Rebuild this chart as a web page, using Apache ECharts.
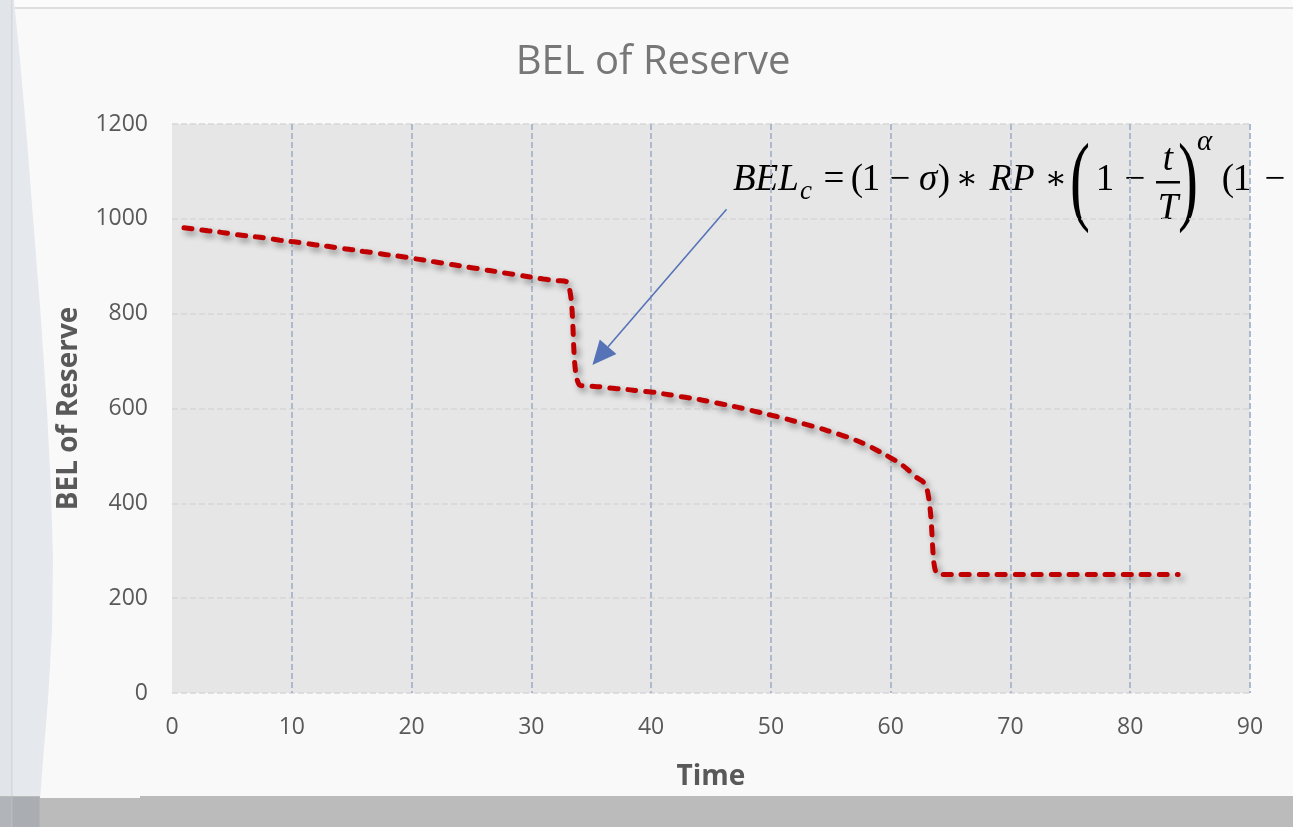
<!DOCTYPE html>
<html>
<head>
<meta charset="utf-8">
<title>BEL of Reserve</title>
<script src="https://cdn.jsdelivr.net/npm/echarts@6/dist/echarts.min.js"></script>
<style>
  html, body { margin: 0; padding: 0; background: #f9f9f9; }
  #chart { width: 1293px; height: 827px; }
</style>
</head>
<body>
<div id="chart"></div>
<script>
// Time steps (x values)
const times = [
  1, 2, 3, 4, 5, 6, 7, 8, 9, 10,
  11, 12, 13, 14, 15, 16, 17, 18, 19, 20,
  21, 22, 23, 24, 25, 26, 27, 28, 29, 30,
  31, 32, 33, 34, 35, 36, 37, 38, 39, 40,
  41, 42, 43, 44, 45, 46, 47, 48, 49, 50,
  51, 52, 53, 54, 55, 56, 57, 58, 59, 60,
  61, 62, 63, 64, 65, 66, 67, 68, 69, 70,
  71, 72, 73, 74, 75, 76, 77, 78, 79, 80,
  81, 82, 83, 84
];

// Best estimate liability of the reserve at each time step
const belValues = [
  981, 978, 975, 972, 968, 965, 962, 959, 955, 952,
  949, 945, 942, 938, 935, 931, 928, 924, 921, 917,
  913, 909, 905, 901, 897, 893, 889, 885, 881, 877,
  873, 870, 866, 650, 647, 645, 642, 640, 637, 635,
  631, 627, 623, 619, 614, 609, 604, 598, 592, 586,
  580, 573, 566, 559, 551, 543, 534, 523, 510, 496,
  480, 458, 434, 250, 250, 250, 250, 250, 250, 250,
  250, 250, 250, 250, 250, 250, 250, 250, 250, 250,
  250, 250, 250, 250
];

// Axis ranges and tick steps
const xRange = [0, 90];
const xStep = 10;
const yRange = [0, 1200];
const yStep = 200;

// Arrow pointing at the first drop, in data coordinates [time, value]
const arrowTail = [46.3, 1020];
const arrowHead = [35.1, 692];

const labelFont = '"Open Sans", "DejaVu Sans", sans-serif';
const mathFont = '"Liberation Serif", "DejaVu Serif", serif';

const chart = echarts.init(document.getElementById('chart'), null, { renderer: 'canvas' });

// Vertical split lines: the one at x = 0 is left out
const xLineCount = (xRange[1] - xRange[0]) / xStep + 1;
const xSplitColors = [];
for (let i = 0; i < xLineCount; i++) xSplitColors.push(i === 0 ? 'rgba(0,0,0,0)' : '#adbace');

// Page decorations around the chart
const frame = [
  { type: 'rect', silent: true, shape: { x: 0, y: 0, width: 1293, height: 8 }, style: { fill: '#fbfbfb' } },
  { type: 'rect', silent: true, shape: { x: 0, y: 7, width: 1293, height: 2 }, style: { fill: '#dedede' } },
  { type: 'rect', silent: true, shape: { x: 0, y: 0, width: 11, height: 827 }, style: { fill: '#e1e4e9' } },
  {
    type: 'polygon', silent: true,
    shape: {
      points: [
        [12, 0], [14, 0], [20, 60], [27, 140], [34, 230], [41, 320], [47, 410],
        [51, 490], [53, 560], [52, 630], [48, 700], [43, 760], [38, 827], [12, 827]
      ]
    },
    style: { fill: '#e5e8ed' }
  },
  { type: 'rect', silent: true, shape: { x: 11, y: 0, width: 1.5, height: 827 }, style: { fill: '#d4d7dc' } },
  { type: 'rect', silent: true, shape: { x: 0, y: 796, width: 1293, height: 31 }, style: { fill: '#bbbbbb' } },
  { type: 'rect', silent: true, shape: { x: 40, y: 796, width: 100, height: 2 }, style: { fill: '#f9f9f9' } },
  { type: 'rect', silent: true, shape: { x: 0, y: 797, width: 11, height: 30 }, style: { fill: '#b1b4b9' } },
  { type: 'rect', silent: true, shape: { x: 12.5, y: 797, width: 27, height: 30 }, style: { fill: '#aaadb2' } }
];

// Formula for BEL_c written next to the curve, one glyph group at a time
const mathColor = '#000000';
const mainY = 180;
function glyph(text, cx, opts) {
  opts = opts || {};
  const size = opts.size || 37;
  const el = {
    type: 'text', silent: true,
    style: {
      x: cx, y: opts.y != null ? opts.y : mainY, text: text,
      font: (opts.italic ? 'italic ' : '') + size + 'px ' + mathFont,
      fill: mathColor, align: opts.align || 'center', verticalAlign: 'middle'
    }
  };
  if (opts.scaleX) {
    el.x = cx; el.style.x = 0; el.scaleX = opts.scaleX;
  }
  return el;
}
const formula = [
  glyph('BEL', 733, { italic: true, align: 'left' }),
  glyph('c', 800, { italic: true, align: 'left', size: 27, y: mainY + 12 }),
  glyph('=', 834),
  glyph('(', 857),
  glyph('1', 871),
  glyph('−', 900),
  glyph('σ', 928, { italic: true }),
  glyph(')', 944),
  glyph('∗', 967, { size: 33 }),
  glyph('RP', 1012, { italic: true }),
  glyph('∗', 1056, { size: 33 }),
  glyph('(', 1080, { size: 100, y: mainY + 6, scaleX: 0.6 }),
  glyph('1', 1105),
  glyph('−', 1135),
  glyph('t', 1168, { italic: true, y: mainY - 20 }),
  { type: 'rect', silent: true, shape: { x: 1156, y: mainY + 1, width: 24, height: 2.5 }, style: { fill: mathColor } },
  glyph('T', 1168, { italic: true, y: mainY + 29 }),
  glyph(')', 1188, { size: 100, y: mainY + 6, scaleX: 0.6 }),
  glyph('α', 1197, { italic: true, align: 'left', size: 29, y: mainY - 38 }),
  glyph('(', 1228),
  glyph('1', 1242),
  glyph('−', 1275)
];

chart.setOption({
  backgroundColor: '#f9f9f9',
  animation: false,
  title: {
    text: 'BEL of Reserve',
    left: 648,
    top: 38,
    textAlign: 'center',
    textStyle: { fontFamily: labelFont, fontSize: 40, fontWeight: 'normal', color: '#777777' }
  },
  grid: {
    left: 172, right: 43, top: 124, bottom: 134,
    show: true,
    borderWidth: 0,
    backgroundColor: '#e6e6e6'
  },
  xAxis: {
    type: 'value',
    min: xRange[0], max: xRange[1], interval: xStep,
    name: 'Time',
    nameLocation: 'middle',
    nameGap: 70,
    nameTextStyle: { fontFamily: labelFont, fontSize: 28, fontWeight: 'bold', color: '#595959' },
    axisLine: { show: false },
    axisTick: { show: false },
    axisLabel: { margin: 23, fontFamily: labelFont, fontSize: 23, color: '#595959', formatter: v => String(v) },
    splitLine: { show: true, lineStyle: { color: xSplitColors, width: 2, type: [6, 3] } }
  },
  yAxis: {
    type: 'value',
    min: yRange[0], max: yRange[1], interval: yStep,
    name: 'BEL of Reserve',
    nameLocation: 'middle',
    nameGap: 89,
    nameRotate: 90,
    nameTextStyle: { fontFamily: labelFont, fontSize: 28, fontWeight: 'bold', color: '#595959' },
    axisLine: { show: false },
    axisTick: { show: false },
    axisLabel: { margin: 24, fontFamily: labelFont, fontSize: 23, color: '#595959', formatter: v => String(v) },
    splitLine: { show: true, lineStyle: { color: '#d6d6d6', width: 1.5, type: [6, 3] } }
  },
  series: [{
    type: 'line',
    data: times.map((t, i) => [t, belValues[i]]),
    smooth: 0.4,
    symbol: 'none',
    lineStyle: {
      color: '#c00000',
      width: 5,
      type: [8, 10],
      cap: 'round',
      shadowColor: 'rgba(0,0,0,0.4)',
      shadowBlur: 6,
      shadowOffsetX: 3,
      shadowOffsetY: 4
    },
    z: 3
  }],
  graphic: frame.concat(formula)
});

// Arrow placed from data coordinates
const p0 = chart.convertToPixel({ gridIndex: 0 }, arrowTail);
const p1 = chart.convertToPixel({ gridIndex: 0 }, arrowHead);
const dx = p1[0] - p0[0], dy = p1[1] - p0[1];
const len = Math.sqrt(dx * dx + dy * dy);
const ux = dx / len, uy = dy / len;
const headLen = 24, headHalf = 11;
const base = [p1[0] - ux * headLen, p1[1] - uy * headLen];
const arrowColor = '#5673b8';

chart.setOption({
  graphic: frame.concat(formula).concat([
    {
      type: 'line', silent: true, z: 10,
      shape: { x1: p0[0], y1: p0[1], x2: base[0], y2: base[1] },
      style: { stroke: arrowColor, lineWidth: 1.6 }
    },
    {
      type: 'polygon', silent: true, z: 10,
      shape: {
        points: [
          [p1[0], p1[1]],
          [base[0] - uy * headHalf, base[1] + ux * headHalf],
          [base[0] + uy * headHalf, base[1] - ux * headHalf]
        ]
      },
      style: { fill: arrowColor }
    }
  ])
});
</script>
</body>
</html>
